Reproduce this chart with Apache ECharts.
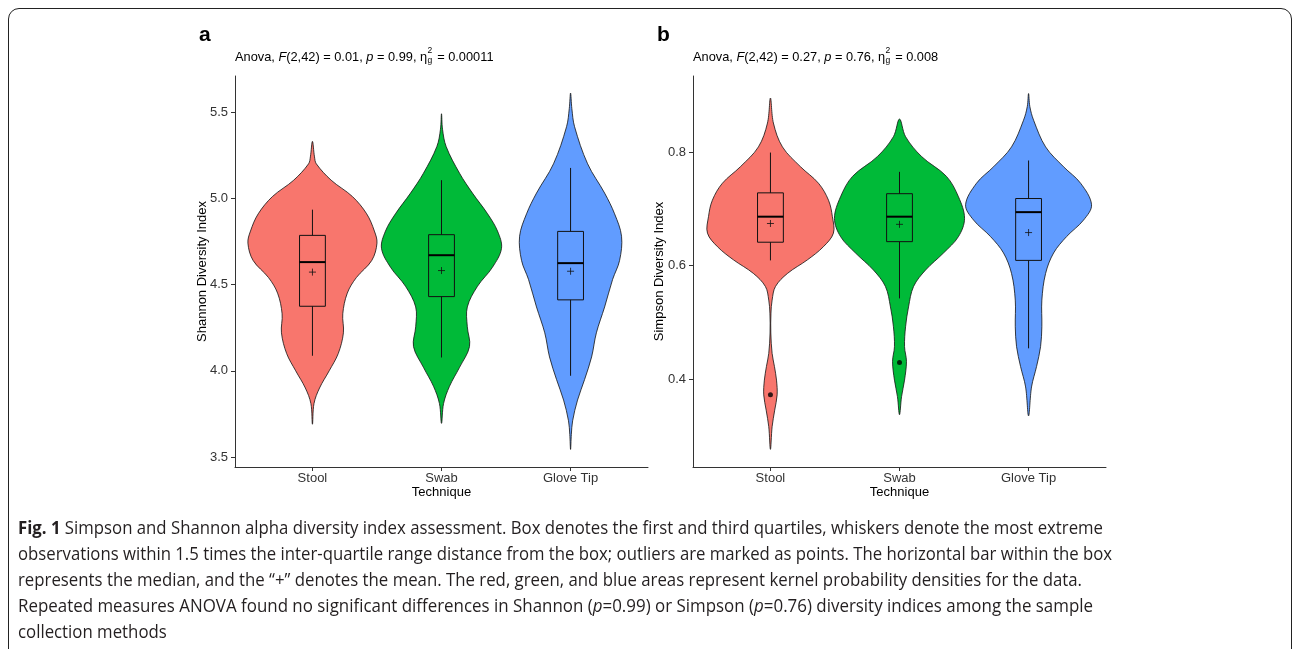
<!DOCTYPE html>
<html>
<head>
<meta charset="utf-8">
<script src="https://cdn.jsdelivr.net/npm/echarts@6/dist/echarts.min.js"></script>
<style>
  html, body { margin: 0; padding: 0; background: #fff; }
  body { width: 1293px; height: 649px; position: relative; overflow: hidden; font-family: 'Liberation Sans', Arial, sans-serif; }
  #frame { position: absolute; left: 8px; top: 8px; width: 1284px; height: 720px; border: 1.5px solid #222; border-radius: 11px; box-sizing: border-box; }
  #chart { position: absolute; left: 0; top: 0; width: 1293px; height: 649px; }
  .tag { position: absolute; top: 23px; font-size: 21px; line-height: 21px; font-weight: bold; color: #000; }
  .anova { position: absolute; top: 50px; font-size: 12.8px; line-height: 13px; color: #000; white-space: nowrap; }
  .ss { display: inline-block; position: relative; width: 6.5px; height: 13px; vertical-align: top; }
  .ss span { position: absolute; left: 0.5px; font-size: 8.5px; line-height: 8.5px; }
  .ss .sup { top: -4px; }
  .ss .sub { top: 5.5px; }
  .capline { position: absolute; left: 18px; font-family: 'Open Sans', 'Noto Sans', sans-serif; font-size: 18.5px; line-height: 18px; color: #231f20; white-space: nowrap; transform-origin: left center; }
</style>
</head>
<body>
<div id="frame"></div>
<div id="chart"></div>

<div class="tag" style="left:199px">a</div>
<div class="tag" style="left:657px">b</div>
<div class="anova" style="left:235px">Anova, <i>F</i>(2,42) = 0.01, <i>p</i> = 0.99, η<span class="ss"><span class="sup">2</span><span class="sub">g</span></span> = 0.00011</div>
<div class="anova" style="left:693px">Anova, <i>F</i>(2,42) = 0.27, <i>p</i> = 0.76, η<span class="ss"><span class="sup">2</span><span class="sub">g</span></span> = 0.008</div>

<div class="capline" data-w="1085" style="top:518px"><b>Fig. 1</b> Simpson and Shannon alpha diversity index assessment. Box denotes the first and third quartiles, whiskers denote the most extreme</div>
<div class="capline" data-w="1094" style="top:544px">observations within 1.5 times the inter-quartile range distance from the box; outliers are marked as points. The horizontal bar within the box</div>
<div class="capline" data-w="1064" style="top:570px">represents the median, and the “+” denotes the mean. The red, green, and blue areas represent kernel probability densities for the data.</div>
<div class="capline" data-w="1075" style="top:596px">Repeated measures ANOVA found no significant differences in Shannon (<i>p</i>=0.99) or Simpson (<i>p</i>=0.76) diversity indices among the sample</div>
<div class="capline" style="top:622px">collection methods</div>

<script>
// categories on the x axis (drawn at 1, 2, 3)
const categories = ['Stool', 'Swab', 'Glove Tip'];
const fills = ['#F8766D', '#00BA38', '#619CFF'];

const shannonTicks = [3.5, 4.0, 4.5, 5.0, 5.5];
const simpsonTicks = [0.4, 0.6, 0.8];

// violin outlines: [value, half width in category units], top to bottom
const shannonStool = [[5.33, 0], [5.24, 0.016], [5.20, 0.03], [5.105, 0.145], [5.01, 0.31], [4.91, 0.42], [4.81, 0.48], [4.74, 0.50], [4.64, 0.46], [4.54, 0.34], [4.45, 0.27], [4.33, 0.235], [4.22, 0.24], [4.10, 0.20], [4.00, 0.13], [3.90, 0.055], [3.81, 0.012], [3.69, 0]];
const shannonSwab = [[5.49, 0], [5.40, 0.008], [5.30, 0.036], [5.145, 0.14], [5.03, 0.24], [4.91, 0.357], [4.81, 0.434], [4.71, 0.465], [4.60, 0.395], [4.49, 0.279], [4.37, 0.20], [4.255, 0.20], [4.14, 0.217], [4.02, 0.14], [3.91, 0.062], [3.81, 0.016], [3.695, 0]];
const shannonGlove = [[5.61, 0], [5.52, 0.01], [5.415, 0.031], [5.20, 0.132], [5.03, 0.264], [4.91, 0.341], [4.78, 0.395], [4.64, 0.38], [4.53, 0.326], [4.37, 0.264], [4.22, 0.20], [4.08, 0.163], [3.95, 0.109], [3.83, 0.054], [3.71, 0.016], [3.63, 0.006], [3.544, 0]];

const simpsonStool = [[0.895, 0], [0.851, 0.023], [0.809, 0.093], [0.774, 0.233], [0.745, 0.372], [0.715, 0.45], [0.686, 0.48], [0.657, 0.488], [0.633, 0.41], [0.610, 0.287], [0.586, 0.132], [0.563, 0.039], [0.539, 0.013], [0.516, 0.004], [0.481, 0.003], [0.445, 0.013], [0.422, 0.031], [0.398, 0.047], [0.372, 0.052], [0.345, 0.033], [0.316, 0.013], [0.276, 0]];
const simpsonSwab = [[0.858, 0], [0.827, 0.047], [0.792, 0.171], [0.757, 0.364], [0.721, 0.457], [0.683, 0.504], [0.651, 0.457], [0.622, 0.341], [0.592, 0.202], [0.563, 0.109], [0.527, 0.07], [0.492, 0.047], [0.457, 0.039], [0.431, 0.054], [0.398, 0.039], [0.369, 0.016], [0.337, 0]];
const simpsonGlove = [[0.903, 0], [0.880, 0.01], [0.856, 0.039], [0.809, 0.132], [0.774, 0.271], [0.745, 0.403], [0.707, 0.488], [0.680, 0.426], [0.651, 0.295], [0.622, 0.194], [0.586, 0.132], [0.539, 0.103], [0.492, 0.103], [0.457, 0.093], [0.422, 0.062], [0.386, 0.023], [0.335, 0]];

// box stats: [lower whisker, Q1, median, Q3, upper whisker]
const shannonBox = [[4.087, 4.374, 4.630, 4.785, 4.934], [4.077, 4.430, 4.670, 4.789, 5.105], [3.971, 4.411, 4.624, 4.808, 5.176]];
const shannonMean = [4.572, 4.581, 4.577];
const shannonOutliers = [];

const simpsonBox = [[0.609, 0.641, 0.686, 0.728, 0.799], [0.542, 0.642, 0.686, 0.7265, 0.765], [0.454, 0.609, 0.694, 0.718, 0.785]];
const simpsonMean = [0.674, 0.6725, 0.658];
const simpsonOutliers = [[0, 0.372], [1, 0.429]];

const font = 'Liberation Sans';
const positions = categories.map((c, i) => i + 1);

function violinSeries(axisIndex, profiles) {
    return {
        type: 'custom',
        xAxisIndex: axisIndex,
        yAxisIndex: axisIndex,
        data: profiles.map((p, i) => [i + 1, p[0][0]]),
        encode: { x: 0, y: 1 },
        clip: false,
        renderItem: (params, api) => {
            const i = params.dataIndex;
            const c = i + 1;
            const prof = profiles[i];
            const right = prof.map(p => api.coord([c + p[1], p[0]]));
            const left = prof.slice().reverse().map(p => api.coord([c - p[1], p[0]]));
            return {
                type: 'polygon',
                shape: { points: right.concat(left.slice(1, -1)), smooth: 0.35 },
                style: { fill: fills[i], stroke: '#111', lineWidth: 0.8 }
            };
        }
    };
}

function boxSeries(axisIndex, boxes, means) {
    return {
        type: 'custom',
        xAxisIndex: axisIndex,
        yAxisIndex: axisIndex,
        data: boxes.map((b, i) => [i + 1, b[2]]),
        encode: { x: 0, y: 1 },
        z: 3,
        renderItem: (params, api) => {
            const i = params.dataIndex;
            const c = i + 1;
            const s = boxes[i];
            const lo = api.coord([c, s[0]]);
            const q1 = api.coord([c, s[1]]);
            const med = api.coord([c, s[2]]);
            const q3 = api.coord([c, s[3]]);
            const hi = api.coord([c, s[4]]);
            const x0 = api.coord([c - 0.1, s[2]])[0];
            const x1 = api.coord([c + 0.1, s[2]])[0];
            const m = api.coord([c, means[i]]);
            const line = { stroke: '#111', lineWidth: 1 };
            return {
                type: 'group',
                children: [
                    { type: 'line', shape: { x1: hi[0], y1: hi[1], x2: q3[0], y2: q3[1] }, style: line },
                    { type: 'line', shape: { x1: q1[0], y1: q1[1], x2: lo[0], y2: lo[1] }, style: line },
                    { type: 'rect', shape: { x: x0, y: q3[1], width: x1 - x0, height: q1[1] - q3[1] }, style: { fill: 'none', stroke: '#111', lineWidth: 1 } },
                    { type: 'line', shape: { x1: x0, y1: med[1], x2: x1, y2: med[1] }, style: { stroke: '#000', lineWidth: 2 } },
                    { type: 'line', shape: { x1: m[0] - 3.5, y1: m[1], x2: m[0] + 3.5, y2: m[1] }, style: { stroke: '#111', lineWidth: 0.8 } },
                    { type: 'line', shape: { x1: m[0], y1: m[1] - 3.5, x2: m[0], y2: m[1] + 3.5 }, style: { stroke: '#111', lineWidth: 0.8 } }
                ]
            };
        }
    };
}

function outlierSeries(axisIndex, pts) {
    return {
        type: 'scatter',
        xAxisIndex: axisIndex,
        yAxisIndex: axisIndex,
        symbol: 'circle',
        symbolSize: 5,
        itemStyle: { color: '#000' },
        z: 4,
        data: pts.map(p => [p[0] + 1, p[1]])
    };
}

function xAxisFor(gridIndex) {
    return {
        type: 'value',
        gridIndex: gridIndex,
        min: 0.4,
        max: 3.6,
        axisLine: { show: true, onZero: false, lineStyle: { color: '#333', width: 1 } },
        axisTick: { show: true, length: 4, customValues: positions, lineStyle: { color: '#333' } },
        axisLabel: { customValues: positions, formatter: v => categories[Math.round(v) - 1], color: '#333', fontSize: 13, fontFamily: font, margin: 5 },
        splitLine: { show: false },
        name: 'Technique',
        nameLocation: 'middle',
        nameGap: 19,
        nameMoveOverlap: false,
        nameTextStyle: { color: '#000', fontSize: 13, fontFamily: font }
    };
}

function yAxisFor(gridIndex, min, max, ticks, name, gap) {
    return {
        type: 'value',
        gridIndex: gridIndex,
        min: min,
        max: max,
        axisLine: { show: true, onZero: false, lineStyle: { color: '#333', width: 1 } },
        axisTick: { show: true, length: 4, customValues: ticks, lineStyle: { color: '#333' } },
        axisLabel: { customValues: ticks, formatter: v => v.toFixed(1), color: '#333', fontSize: 13, fontFamily: font, margin: 7 },
        splitLine: { show: false },
        name: name,
        nameLocation: 'middle',
        nameGap: gap,
        nameMoveOverlap: false,
        nameTextStyle: { color: '#000', fontSize: 13, fontFamily: font }
    };
}

const chart = echarts.init(document.getElementById('chart'), null, { renderer: 'canvas' });
chart.setOption({
    animation: false,
    backgroundColor: 'transparent',
    grid: [
        { left: 235, top: 76, width: 413, height: 391, containLabel: false, outerBoundsMode: 'none' },
        { left: 693, top: 76, width: 413, height: 391, containLabel: false, outerBoundsMode: 'none' }
    ],
    xAxis: [xAxisFor(0), xAxisFor(1)],
    yAxis: [
        yAxisFor(0, 3.442, 5.709, shannonTicks, 'Shannon Diversity Index', 26),
        yAxisFor(1, 0.2449, 0.9339, simpsonTicks, 'Simpson Diversity Index', 27)
    ],
    series: [
        violinSeries(0, [shannonStool, shannonSwab, shannonGlove]),
        boxSeries(0, shannonBox, shannonMean),
        outlierSeries(0, shannonOutliers),
        violinSeries(1, [simpsonStool, simpsonSwab, simpsonGlove]),
        boxSeries(1, simpsonBox, simpsonMean),
        outlierSeries(1, simpsonOutliers)
    ]
});

// squeeze caption lines to the widths of the printed figure;
// the short last line takes the average squeeze of the others
const scales = [];
document.querySelectorAll('.capline').forEach(el => {
    const w = el.getBoundingClientRect().width;
    let k;
    if (el.dataset.w) {
        k = Number(el.dataset.w) / w;
        scales.push(k);
    } else {
        k = scales.reduce((a, b) => a + b, 0) / scales.length;
    }
    el.style.transform = 'scaleX(' + k + ')';
});
</script>
</body>
</html>
